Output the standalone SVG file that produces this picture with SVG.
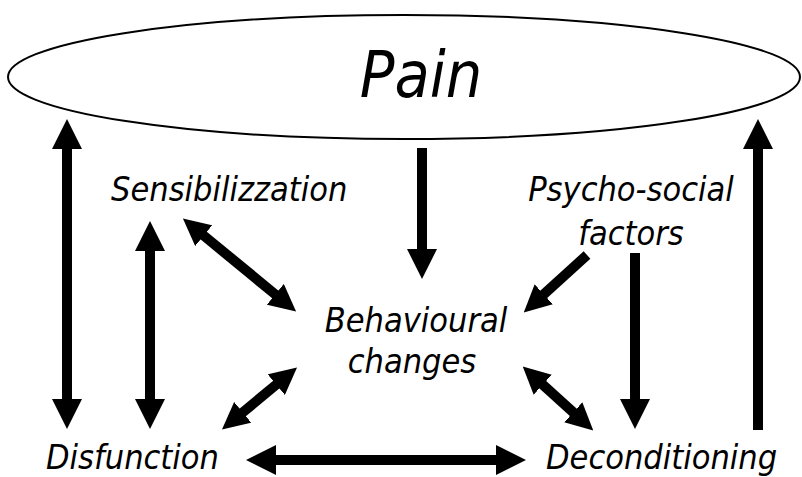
<svg xmlns="http://www.w3.org/2000/svg" width="802" height="477" viewBox="0 0 802 477">
<style>
.lbl{font-family:"DejaVu Sans Condensed","DejaVu Sans",sans-serif;font-style:italic;fill:#000}
.sh{stroke:#000;stroke-width:10;fill:none}
</style>
<defs>
<marker id="ah" viewBox="0 0 30 30" refX="1" refY="15" markerWidth="30" markerHeight="30" markerUnits="userSpaceOnUse" orient="auto-start-reverse"><path d="M0,0 L30,15 L0,30 z" fill="#000"/></marker>
<marker id="as" viewBox="0 0 27 27" refX="1" refY="13.5" markerWidth="27" markerHeight="27" markerUnits="userSpaceOnUse" orient="auto-start-reverse"><path d="M0,0 L27,13.5 L0,27 z" fill="#000"/></marker>
</defs>
<rect width="802" height="477" fill="#fff"/>
<g id="pain"><ellipse cx="404" cy="77" rx="396" ry="62" fill="#fff" stroke="#000" stroke-width="2"/><text class="lbl" x="421" y="97" font-size="64" text-anchor="middle">Pain</text></g>
<g id="sens"><text class="lbl" x="111" y="201" font-size="34">Sensibilizzation</text></g>
<g id="psych"><text class="lbl" x="631" y="201" font-size="34" text-anchor="middle">Psycho-social</text><text class="lbl" x="631" y="245" font-size="34" text-anchor="middle">factors</text></g>
<g id="behav"><text class="lbl" x="416" y="332" font-size="34" text-anchor="middle">Behavioural</text><text class="lbl" x="412" y="373" font-size="34" text-anchor="middle">changes</text></g>
<g id="disf"><text class="lbl" x="46" y="469" font-size="34">Disfunction</text></g>
<g id="decond"><text class="lbl" x="546" y="469" font-size="34">Deconditioning</text></g>
<g id="connectors">
<line class="sh" x1="67" y1="148" x2="67" y2="400" marker-start="url(#ah)" marker-end="url(#ah)"/>
<line class="sh" x1="150" y1="250" x2="150" y2="400" marker-start="url(#ah)" marker-end="url(#ah)"/>
<line class="sh" x1="422" y1="148" x2="422" y2="250" marker-end="url(#ah)"/>
<line class="sh" x1="635" y1="253" x2="635" y2="400" marker-end="url(#ah)"/>
<line class="sh" x1="758" y1="430" x2="758" y2="148" marker-end="url(#ah)"/>
<line class="sh" x1="275" y1="460" x2="497" y2="460" marker-start="url(#ah)" marker-end="url(#ah)"/>
<line class="sh" x1="203" y1="235" x2="276" y2="295" marker-start="url(#as)" marker-end="url(#as)"/>
<line class="sh" x1="277" y1="384" x2="242" y2="413" marker-start="url(#as)" marker-end="url(#as)"/>
<line class="sh" x1="587" y1="255" x2="543" y2="295" marker-end="url(#as)"/>
<line class="sh" x1="542" y1="384" x2="574" y2="413" marker-start="url(#as)" marker-end="url(#as)"/>
</g>
</svg>
